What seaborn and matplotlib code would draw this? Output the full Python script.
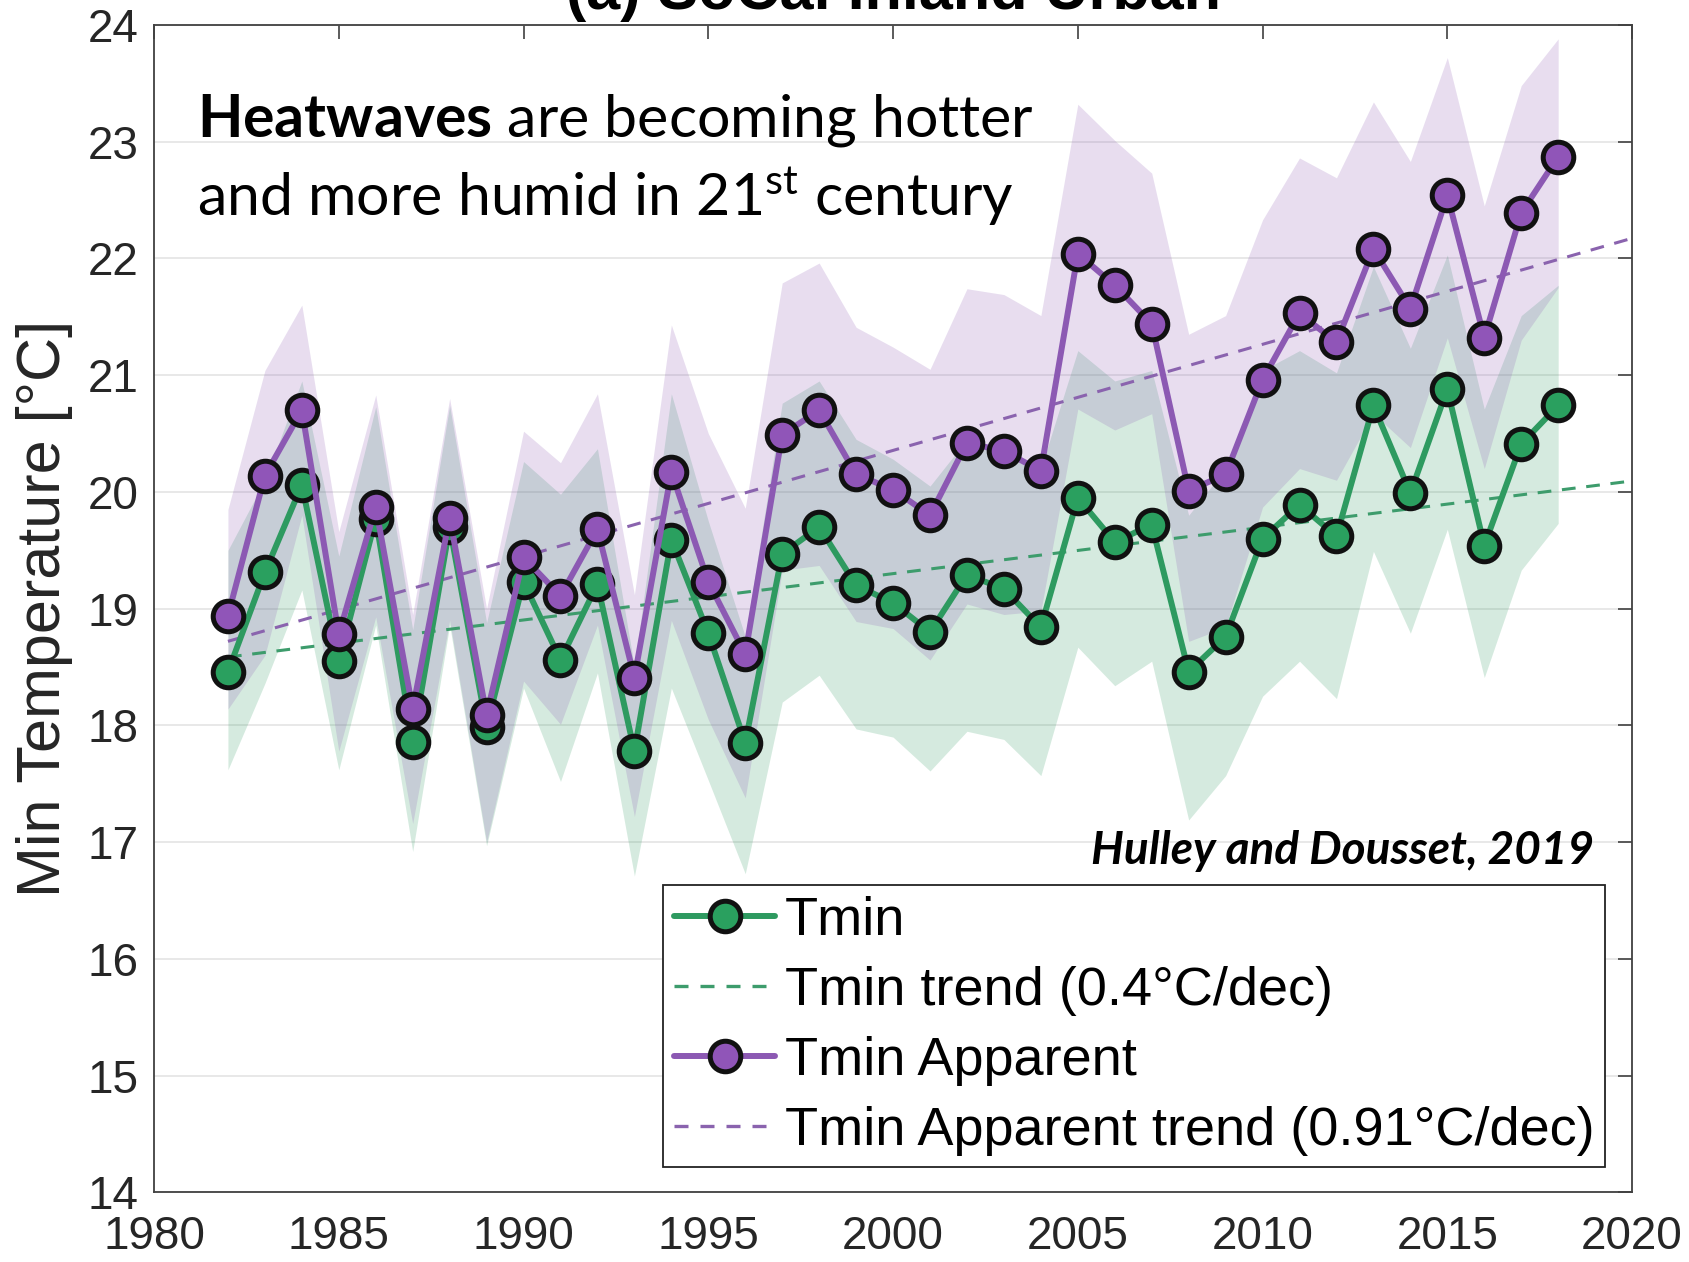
import numpy as np
import pandas as pd
import matplotlib
matplotlib.use("Agg")
import matplotlib.pyplot as plt
import seaborn as sns
from matplotlib.lines import Line2D
from matplotlib import font_manager

# ---------------- data ----------------
years = list(range(1982, 2019))
tmin = [18.46, 19.31, 20.06, 18.55, 19.77, 17.86, 19.70, 17.99, 19.23, 18.56,
        19.21, 17.78, 19.59, 18.79, 17.85, 19.47, 19.70, 19.20, 19.05, 18.80,
        19.29, 19.17, 18.84, 19.95, 19.57, 19.72, 18.46, 18.76, 19.60, 19.89,
        19.62, 20.74, 19.99, 20.88, 19.54, 20.41, 20.74]
tmin_app = [18.94, 20.14, 20.70, 18.78, 19.87, 18.14, 19.78, 18.09, 19.44, 19.11,
            19.68, 18.41, 20.17, 19.23, 18.61, 20.49, 20.70, 20.15, 20.02, 19.80,
            20.42, 20.35, 20.18, 22.04, 21.77, 21.44, 20.01, 20.15, 20.96, 21.53,
            21.28, 22.08, 21.57, 22.54, 21.32, 22.39, 22.87]
tmin_hi = [19.50, 20.10, 20.95, 19.45, 20.73, 18.82, 20.74, 18.88, 20.26, 19.98,
           20.37, 18.50, 20.84, 19.75, 18.76, 20.76, 20.95, 20.45, 20.28, 20.05,
           20.45, 20.32, 20.20, 21.21, 20.95, 21.04, 19.80, 20.20, 21.04, 21.21,
           21.02, 21.93, 21.23, 22.03, 20.71, 21.51, 21.77]
tmin_lo = [17.62, 18.36, 19.16, 17.62, 18.86, 16.92, 18.86, 16.97, 18.32, 17.52,
           18.45, 16.71, 18.32, 17.53, 16.73, 18.20, 18.43, 17.97, 17.90, 17.61,
           17.95, 17.88, 17.57, 18.67, 18.34, 18.55, 17.19, 17.57, 18.25, 18.55,
           18.23, 19.49, 18.79, 19.68, 18.41, 19.33, 19.73]
app_hi = [19.85, 21.04, 21.60, 19.66, 20.83, 18.95, 20.80, 19.00, 20.52, 20.25,
          20.84, 19.12, 21.43, 20.50, 19.86, 21.79, 21.96, 21.41, 21.24, 21.05,
          21.74, 21.69, 21.51, 23.32, 23.01, 22.73, 21.35, 21.51, 22.33, 22.86,
          22.69, 23.34, 22.83, 23.72, 22.45, 23.48, 23.88]
app_lo = [18.14, 18.60, 19.80, 17.78, 18.93, 17.16, 18.90, 17.00, 18.38, 18.01,
          18.86, 17.22, 18.90, 18.05, 17.38, 19.33, 19.37, 18.89, 18.83, 18.56,
          19.04, 18.95, 18.98, 20.71, 20.53, 20.67, 18.72, 18.84, 19.87, 20.20,
          20.10, 20.67, 20.38, 21.32, 20.20, 21.30, 21.75]
trend_span = [1982, 2020]
x_ticks = [1980, 1985, 1990, 1995, 2000, 2005, 2010, 2015, 2020]
y_ticks = [14, 15, 16, 17, 18, 19, 20, 21, 22, 23, 24]
labels = ["Tmin", "Tmin trend (0.4\u00b0C/dec)", "Tmin Apparent",
          "Tmin Apparent trend (0.91\u00b0C/dec)"]

# ---------------- style ----------------
sns.set_theme(style="white")


def have(name):
    try:
        font_manager.findfont(name, fallback_to_default=False)
        return True
    except Exception:
        return False


arial = "Liberation Sans" if have("Liberation Sans") else "DejaVu Sans"
plt.rcParams["font.family"] = [arial, "DejaVu Sans"]
plt.rcParams["mathtext.fontset"] = "custom"
plt.rcParams["mathtext.rm"] = "Lato"
plt.rcParams["mathtext.bf"] = "Lato:bold"
plt.rcParams["mathtext.it"] = "Lato:italic"

GREEN = "#2e9a60"
GREEN_FILL = "#2aa05f"
PURPLE = "#8c59b3"
PURPLE_FILL = "#9055b8"
GREEN_TR = "#3d9c6c"
PURPLE_TR = "#8a63ae"
DASH = (4.5, 3.5)

df = pd.DataFrame({"year": years, "tmin": tmin, "app": tmin_app})

fig = plt.figure(figsize=(16.89, 12.62), dpi=100)
ax = fig.add_axes([0.0912, 0.0551, 0.8751, 0.9252])

# shaded ranges
ax.fill_between(years, tmin_lo, tmin_hi, color=GREEN, alpha=0.2, lw=0, zorder=1)
ax.fill_between(years, app_lo, app_hi, color=PURPLE, alpha=0.2, lw=0, zorder=1.1)

# trends (least-squares fits of the two series)
tx = np.array(trend_span, dtype=float)
g_fit = np.polyfit(years, tmin, 1)
p_fit = np.polyfit(years, tmin_app, 1)
tr = pd.DataFrame({"x": tx, "g": np.polyval(g_fit, tx), "p": np.polyval(p_fit, tx)})
sns.lineplot(data=tr, x="x", y="g", ax=ax, color=GREEN_TR, lw=2.2, zorder=2)
ax.lines[-1].set_dashes(DASH)
sns.lineplot(data=tr, x="x", y="p", ax=ax, color=PURPLE_TR, lw=2.2, zorder=2)
ax.lines[-1].set_dashes(DASH)

mk = dict(marker="o", markersize=22, markeredgecolor="#111111", markeredgewidth=3.6)
sns.lineplot(data=df, x="year", y="tmin", ax=ax, color=GREEN, lw=4.3,
             markerfacecolor=GREEN_FILL, zorder=3, **mk)
sns.lineplot(data=df, x="year", y="app", ax=ax, color=PURPLE, lw=4.3,
             markerfacecolor=PURPLE_FILL, zorder=4, **mk)

# axes
ax.set_xlim(1980, 2020)
ax.set_ylim(14, 24)
ax.set_xticks(x_ticks)
ax.set_yticks(y_ticks)
ax.set_xlabel("")
ax.set_ylabel("Min Temperature [\u00b0C]", fontsize=44, color="#262626")
ax.yaxis.set_label_coords(-0.0548, 0.5)
ax.tick_params(axis="both", direction="in", length=10, width=1.2, color="#404040",
               top=True, right=True, labelsize=33, labelcolor="#262626")
ax.tick_params(axis="x", pad=16)
ax.tick_params(axis="y", pad=11)
ax.grid(axis="y", color="#e2e2e2", lw=1.1)
ax.grid(axis="x", visible=False)
ax.set_axisbelow(True)
for s in ax.spines.values():
    s.set_color("#404040")
    s.set_linewidth(1.3)

# legend
handles = [
    Line2D([], [], color=GREEN, lw=4.3, markerfacecolor=GREEN_FILL, **mk),
    Line2D([], [], color=GREEN_TR, lw=2.4, dashes=(4.2, 3.6)),
    Line2D([], [], color=PURPLE, lw=4.3, markerfacecolor=PURPLE_FILL, **mk),
    Line2D([], [], color=PURPLE_TR, lw=2.4, dashes=(4.2, 3.6)),
]
leg = ax.legend(handles, labels, loc="lower right", bbox_to_anchor=(0.982, 0.022),
                fontsize=39, frameon=True, fancybox=False, framealpha=1,
                edgecolor="#222222", handlelength=1.87, handletextpad=0.18,
                labelspacing=0.37, borderpad=0.2, borderaxespad=0)
leg.get_frame().set_linewidth(1.3)
for t in leg.get_texts():
    t.set_color("black")

# annotations
ax.text(0.029, 0.904, r"$\mathbf{Heatwaves}$ are becoming hotter", transform=ax.transAxes,
        fontsize=42.5, family="Lato", color="black", va="baseline", ha="left", zorder=6)
ax.text(0.029, 0.837, r"and more humid in 21$^{\mathrm{st}}$ century", transform=ax.transAxes,
        fontsize=42.5, family="Lato", color="black", va="baseline", ha="left", zorder=6)
ax.text(0.974, 0.281, "Hulley and Dousset, 2019", transform=ax.transAxes,
        fontsize=33, family="Lato", fontweight="bold", fontstyle="italic",
        color="black", va="baseline", ha="right", zorder=6)

# title (partly outside the canvas, as in the reference)
fig.text(0.0912 + 0.8751 / 2, 1 - 9 / 1262, "(a) SoCal Inland Urban", fontsize=44,
         fontweight="bold", ha="center", va="baseline", color="black")

fig.savefig("out.png", dpi=100)
